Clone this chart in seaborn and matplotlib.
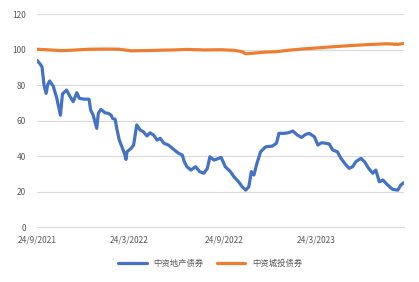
import matplotlib
matplotlib.use("Agg")
import matplotlib.pyplot as plt
import seaborn as sns
import pandas as pd

# ---- data ----
re_dates = ["2021-09-24","2021-09-30","2021-10-04","2021-10-08","2021-10-12","2021-10-15","2021-10-19",
            "2021-10-26","2021-11-02","2021-11-09","2021-11-13","2021-11-21","2021-11-28","2021-12-04",
            "2021-12-11","2021-12-16","2021-12-24","2022-01-04","2022-01-07","2022-01-12","2022-01-19",
            "2022-01-22","2022-01-27","2022-02-04","2022-02-11","2022-02-16","2022-02-19","2022-02-24",
            "2022-02-27","2022-03-04","2022-03-09","2022-03-14","2022-03-17","2022-03-19","2022-03-27",
            "2022-04-01","2022-04-04","2022-04-07","2022-04-14","2022-04-20","2022-04-27","2022-05-03",
            "2022-05-10","2022-05-17","2022-05-23","2022-05-30","2022-06-08","2022-06-18","2022-06-28",
            "2022-07-05","2022-07-09","2022-07-14","2022-07-22","2022-07-31","2022-08-08","2022-08-16",
            "2022-08-23","2022-08-28","2022-09-05","2022-09-19","2022-09-27","2022-10-07","2022-10-14",
            "2022-10-23","2022-10-30","2022-11-06","2022-11-12","2022-11-17","2022-11-22","2022-11-27",
            "2022-12-05","2022-12-15","2022-12-28","2023-01-05","2023-01-10","2023-01-20","2023-01-28",
            "2023-02-06","2023-02-15","2023-02-23","2023-03-03","2023-03-10","2023-03-20","2023-03-27",
            "2023-04-03","2023-04-11","2023-04-18","2023-04-25","2023-05-04","2023-05-11","2023-05-21",
            "2023-05-27","2023-06-03","2023-06-09","2023-06-19","2023-06-26","2023-07-04","2023-07-12",
            "2023-07-18","2023-07-25","2023-08-01","2023-08-10","2023-08-20","2023-08-30","2023-09-05",
            "2023-09-11"]
re_values = [94.0, 92.0, 90.3, 80.0, 75.3, 80.0, 82.3,
             79.4, 72.5, 63.0, 75.0, 77.2, 73.4, 70.6,
             75.7, 72.5, 72.1, 72.0, 66.0, 63.0, 55.6,
             64.0, 66.3, 64.4, 64.0, 63.0, 61.2, 60.7,
             55.6, 49.0, 45.3, 41.5, 38.1, 42.4, 44.3,
             46.2, 51.8, 57.5, 54.6, 53.7, 51.3, 53.1,
             51.8, 49.0, 50.0, 47.2, 46.2, 43.8, 41.5,
             40.6, 36.8, 34.0, 32.1, 34.0, 31.2, 30.3,
             33.0, 39.6, 37.7, 39.2, 34.0, 31.2, 28.3,
             25.5, 22.7, 20.8, 22.7, 31.2, 29.3, 35.0,
             42.4, 45.2, 45.6, 47.2, 52.8, 52.8, 53.1,
             54.1, 51.8, 50.5, 52.2, 52.8, 50.9, 46.2,
             47.5, 47.2, 46.8, 43.4, 42.4, 38.7, 34.9,
             33.1, 34.0, 36.8, 38.7, 36.8, 33.1, 30.3,
             32.1, 25.5, 26.5, 23.7, 21.2, 20.8, 23.7,
             25.0]

lgfv_dates = ["2021-09-24","2021-10-19","2021-11-13","2021-12-11","2022-01-04","2022-02-04","2022-03-04",
              "2022-03-27","2022-04-20","2022-05-17","2022-06-18","2022-07-14","2022-08-16","2022-09-19",
              "2022-10-14","2022-10-30","2022-11-06","2022-11-22","2022-12-15","2023-01-05","2023-01-28",
              "2023-02-23","2023-03-20","2023-04-25","2023-05-27","2023-06-26","2023-07-25","2023-08-10",
              "2023-08-30","2023-09-11"]
lgfv_values = [100.2, 99.8, 99.4, 99.8, 100.2, 100.3, 100.2,
               99.3, 99.4, 99.6, 99.8, 100.1, 99.8, 99.9,
               99.6, 98.8, 97.6, 98.0, 98.6, 98.8, 99.6,
               100.3, 100.8, 101.6, 102.2, 102.7, 103.1, 103.3,
               102.9, 103.5]

series_names = ["中资地产债券", "中资城投债券"]
tick_dates = ["2021-09-24", "2022-03-24", "2022-09-24", "2023-03-24"]
tick_labels = ["24/9/2021", "24/3/2022", "24/9/2022", "24/3/2023"]
y_ticks = [0, 20, 40, 60, 80, 100, 120]

df = pd.concat([
    pd.DataFrame({"date": pd.to_datetime(re_dates), "value": re_values, "series": series_names[0]}),
    pd.DataFrame({"date": pd.to_datetime(lgfv_dates), "value": lgfv_values, "series": series_names[1]}),
])

# ---- style ----
sns.set_style("white")
plt.rcParams["font.family"] = ["Noto Sans CJK SC", "DejaVu Sans"]

fig = plt.figure(figsize=(4.19, 2.82), dpi=100)
ax = fig.add_axes([0.088, 0.195, 0.876, 0.755])

sns.lineplot(data=df, x="date", y="value", hue="series", hue_order=series_names,
             palette=["#4472C4", "#ED7D31"], linewidth=2.3, ax=ax, legend=True)

ax.set_ylim(0, 120)
ax.set_yticks(y_ticks)
ax.set_xlim(pd.Timestamp(re_dates[0]), pd.Timestamp(re_dates[-1]))
ax.set_xticks(pd.to_datetime(tick_dates))
ax.set_xticklabels(tick_labels)
ax.set_xlabel("")
ax.set_ylabel("")
ax.grid(axis="y", color="#d9d9d9", linewidth=0.8)
ax.set_axisbelow(True)
for s in ["top", "right", "left"]:
    ax.spines[s].set_visible(False)
ax.spines["bottom"].set_color("#d9d9d9")
ax.spines["bottom"].set_linewidth(0.8)
ax.tick_params(axis="both", length=0, labelsize=6, labelcolor="#595959")
ax.tick_params(axis="y", pad=8)
ax.tick_params(axis="x", pad=6)

handles, labels = ax.get_legend_handles_labels()
ax.get_legend().remove()
fig.legend(handles, labels, loc="center", bbox_to_anchor=(0.502, 0.067), ncol=2,
           frameon=False, fontsize=6, handlelength=3.4, columnspacing=1.6,
           labelcolor="#595959")

fig.savefig("out.png", dpi=100)
